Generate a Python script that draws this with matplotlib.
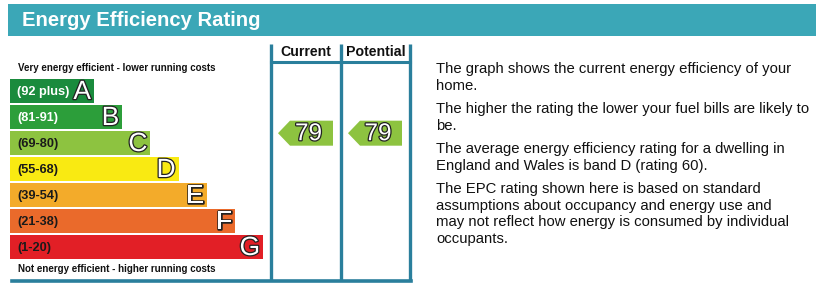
import matplotlib
matplotlib.use("Agg")
import matplotlib.pyplot as plt
from matplotlib.patches import Rectangle, Polygon
import matplotlib.patheffects as pe

plt.rcParams['font.family'] = ['Liberation Sans', 'DejaVu Sans']

# ---- data ----
title = "Energy Efficiency Rating"
band_letters = ["A", "B", "C", "D", "E", "F", "G"]
band_ranges = ["(92 plus)", "(81-91)", "(69-80)", "(55-68)", "(39-54)", "(21-38)", "(1-20)"]
band_low = [92, 81, 69, 55, 39, 21, 1]
band_high = [100, 91, 80, 68, 54, 38, 20]
band_colors = ["#1a8b3d", "#2c9e3a", "#8dc340", "#f9ea12", "#f3ab2a", "#ea6a2b", "#e21f26"]
band_text_colors = ["white", "white", "#1a1a1a", "#1a1a1a", "#1a1a1a", "#1a1a1a", "#1a1a1a"]
column_headers = ["Current", "Potential"]
ratings = [79, 79]
top_note = "Very energy efficient - lower running costs"
bottom_note = "Not energy efficient - higher running costs"
paragraphs = [
    "The graph shows the current energy efficiency of your\nhome.",
    "The higher the rating the lower your fuel bills are likely to\nbe.",
    "The average energy efficiency rating for a dwelling in\nEngland and Wales is band D (rating 60).",
    "The EPC rating shown here is based on standard\nassumptions about occupancy and energy use and\nmay not reflect how energy is consumed by individual\noccupants.",
]

# ---- layout ----
W, H = 830, 290
fig = plt.figure(figsize=(W / 100, H / 100), dpi=100)
ax = fig.add_axes([0, 0, 1, 1])
ax.set_xlim(0, W)
ax.set_ylim(H, 0)
ax.axis("off")

teal = "#3ba7b7"
line_col = "#2a7f9c"

# header bar
ax.add_patch(Rectangle((8, 4), 808, 32, color=teal, lw=0))
ax.text(22, 20.5, title, color="white", fontsize=14.6, fontweight="bold",
        va="center", ha="left")

# bands
band_top0 = 79
band_pitch = 26
band_h = 24
bar_left = 10
bar_w0 = 84
bar_step = 28.2
outline = [pe.Stroke(linewidth=1.8, foreground="#222222"), pe.Normal()]
for i, (L, rng, col, tc) in enumerate(zip(band_letters, band_ranges, band_colors, band_text_colors)):
    yc = band_top0 + i * band_pitch + band_h / 2
    w = bar_w0 + i * bar_step
    ax.barh(yc, w, left=bar_left, height=band_h, color=col, lw=0)
    ax.text(bar_left + 7, yc + 0.5, rng, color=tc, fontsize=9.2, fontweight="bold",
            va="center", ha="left")
    ax.text(bar_left + w - 3, yc + 1, L, color="white", fontsize=19,
            va="center", ha="right", path_effects=outline)

ax.text(18, 68, top_note, fontsize=7.0, fontweight="bold", va="center", ha="left", color="#111111")
ax.text(18, 269, bottom_note, fontsize=7.0, fontweight="bold", va="center", ha="left", color="#111111")

# column grid
col_x = [271, 341, 410]
grid_top, head_bot, grid_bot = 44, 62, 280.5
for x in col_x:
    ax.plot([x, x], [grid_top, grid_bot], color=line_col, lw=2.4, solid_capstyle="butt")
ax.plot([col_x[0], col_x[-1]], [head_bot, head_bot], color=line_col, lw=2.2)
ax.plot([12, col_x[-1] + 1], [grid_bot, grid_bot], color=line_col, lw=2.6)

for j, hdr in enumerate(column_headers):
    xc = (col_x[j] + col_x[j + 1]) / 2
    ax.text(xc, 52, hdr, fontsize=10.2, fontweight="bold", ha="center", va="center", color="#111111")

# rating arrows
def rating_y(r):
    for i in range(len(band_letters)):
        if band_low[i] <= r <= band_high[i]:
            frac = (r - band_low[i]) / (band_high[i] - band_low[i])
            bottom = band_top0 + i * band_pitch + band_h
            return bottom - frac * band_h, i
    return None, None

arrow_h = 25
for j, r in enumerate(ratings):
    yc, bi = rating_y(r)
    x0 = col_x[j] + 7
    x_body = x0 + 12
    x1 = col_x[j + 1] - 8
    poly = Polygon([(x0, yc), (x_body, yc - arrow_h / 2), (x1, yc - arrow_h / 2),
                    (x1, yc + arrow_h / 2), (x_body, yc + arrow_h / 2)],
                   closed=True, color=band_colors[bi], lw=0)
    ax.add_patch(poly)
    ax.text((x_body + x1) / 2 - 3, yc + 1, str(r), fontsize=17.5, color="white",
            ha="center", va="center", path_effects=outline)

# right-side text
para_y = [62.5, 102.5, 142.5, 182.5]
for y, p in zip(para_y, paragraphs):
    ax.text(436, y, p, fontsize=10.7, va="top", ha="left", color="#111111", linespacing=1.22)

fig.savefig("out.png", dpi=100, facecolor="white")
